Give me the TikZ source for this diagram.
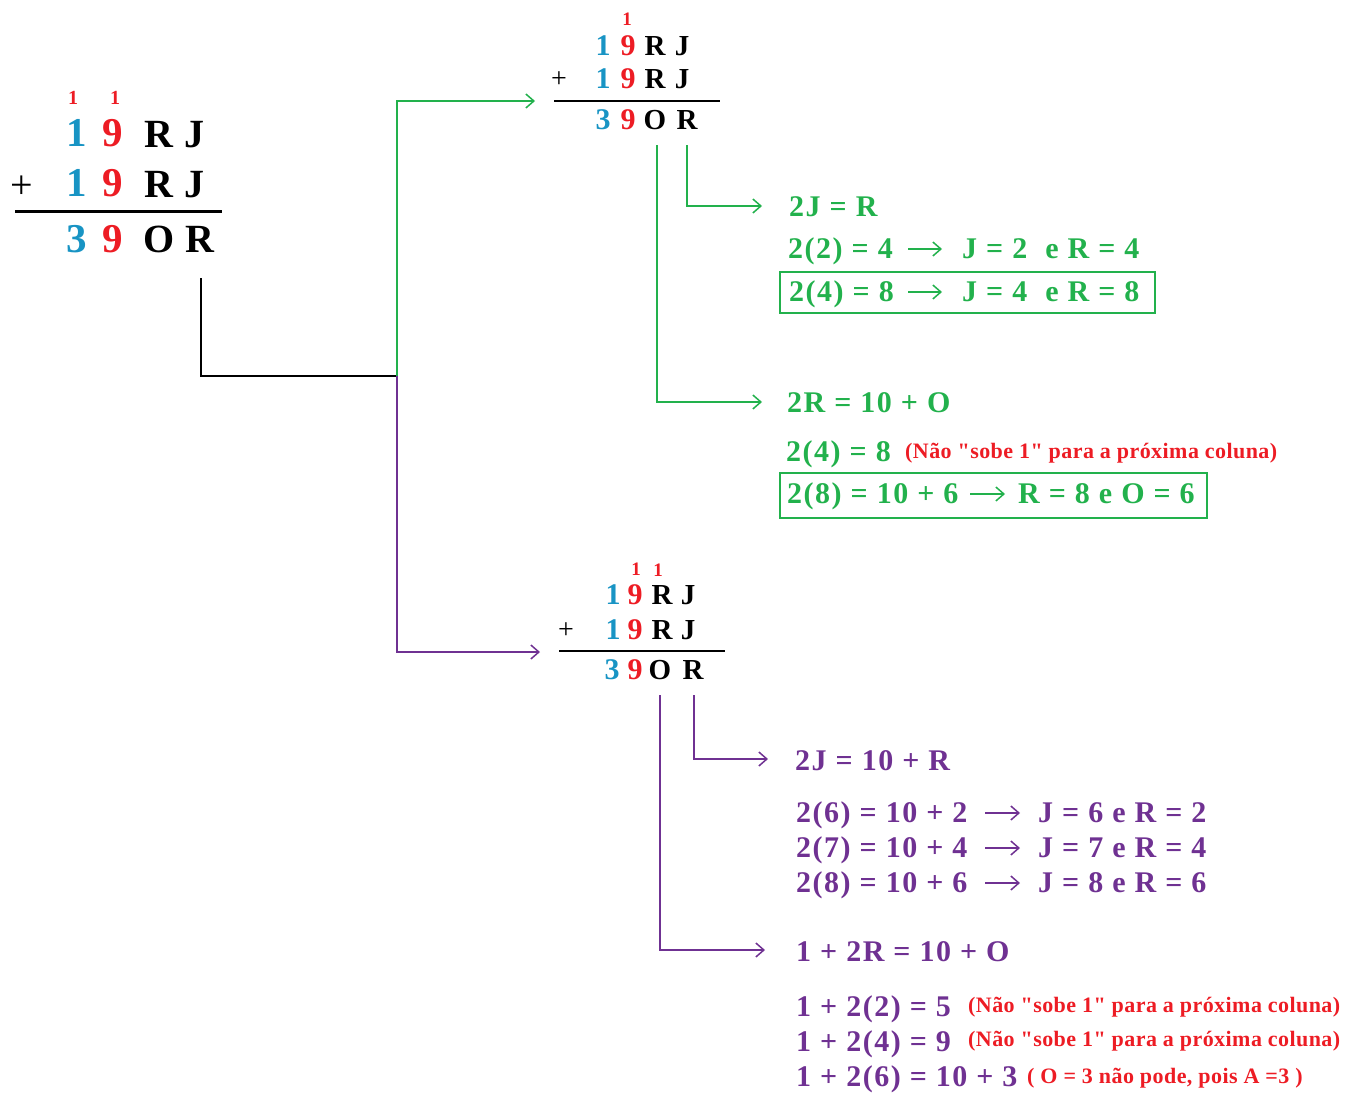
\documentclass[tikz,border=0pt]{standalone}
\usepackage{fontspec}
\setmainfont{Liberation Serif}[Ligatures=TeXOff]
\usetikzlibrary{arrows.meta,calc}
\definecolor{grn}{RGB}{34,177,76}
\definecolor{pur}{RGB}{111,49,146}
\definecolor{rd}{RGB}{237,28,36}
\definecolor{blu}{RGB}{24,148,196}
\tikzset{
  gl/.style={inner sep=0pt, anchor=base},
  bigd/.style={gl, font=\bfseries\fontsize{41}{41}\selectfont},
  bigl/.style={gl, font=\bfseries\fontsize{40}{40}\selectfont},
  bigc/.style={gl, font=\bfseries\fontsize{20}{20}\selectfont, text=rd},
  midd/.style={gl, font=\bfseries\fontsize{30}{30}\selectfont},
  midl/.style={gl, font=\bfseries\fontsize{29}{29}\selectfont},
  midc/.style={gl, font=\bfseries\fontsize{19}{19}\selectfont, text=rd},
  plus/.style={inner sep=0pt, anchor=center},
  eq/.style={inner sep=0pt, anchor=base west, font=\bfseries\fontsize{30}{30}\selectfont\addfontfeature{LetterSpace=5}},
  note/.style={inner sep=0pt, anchor=base west, font=\bfseries\fontsize{22}{22}\selectfont\addfontfeature{LetterSpace=2}, text=rd},
  conn/.style={line width=2pt, -{Straight Barb[length=8pt,width=14pt,line width=1.5pt]}},
  tarr/.style={line width=1.5pt, -{Straight Barb[length=8pt,width=14pt,line width=1.5pt]}},
  boxn/.style={draw, line width=1.5pt, inner sep=0pt},
}
\begin{document}
\begin{tikzpicture}[x=1pt,y=-1pt]
\useasboundingbox (0,0) rectangle (1365,1095);

% ---------- left block ----------
\node[bigc] (lc1) at (73,104) {1};
\node[bigc] (lc2) at (115,104) {1};
\node[bigd,text=blu] (l11) at (77,146) {1};
\node[bigd,text=rd]  (l12) at (113,146) {9};
\node[bigl] (l13) at (159,147) {R};
\node[bigl] (l14) at (194,147) {J};
\node[plus,font=\fontsize{40}{40}\selectfont] (lp) at (22,187) {+};
\node[bigd,text=blu] (l21) at (77,196) {1};
\node[bigd,text=rd]  (l22) at (113,196) {9};
\node[bigl] (l23) at (159,197) {R};
\node[bigl] (l24) at (194,197) {J};
\draw[line width=3pt] (15,211) -- (222,211);
\node[bigd,text=blu] (l31) at (77,252) {3};
\node[bigd,text=rd]  (l32) at (113,252) {9};
\node[bigl] (l33) at (159,252) {O};
\node[bigl] (l34) at (200,252) {R};

% ---------- top middle block ----------
\node[midc] (tc1) at (627,25) {1};
\node[midd,text=blu] (t11) at (603,55) {1};
\node[midd,text=rd]  (t12) at (628,55) {9};
\node[midl] (t13) at (655,55) {R};
\node[midl] (t14) at (682,55) {J};
\node[plus,font=\fontsize{28}{28}\selectfont] (tp) at (559,80) {+};
\node[midd,text=blu] (t21) at (603,88) {1};
\node[midd,text=rd]  (t22) at (628,88) {9};
\node[midl] (t23) at (655,88) {R};
\node[midl] (t24) at (682,88) {J};
\draw[line width=1.5pt] (554,101) -- (720,101);
\node[midd,text=blu] (t31) at (603,129) {3};
\node[midd,text=rd]  (t32) at (628,129) {9};
\node[midl] (t33) at (655,129) {O};
\node[midl] (t34) at (687,129) {R};

% ---------- bottom middle block ----------
\node[midc] (bc1) at (636,575) {1};
\node[midc] (bc2) at (658,576) {1};
\node[midd,text=blu] (b11) at (613,604) {1};
\node[midd,text=rd]  (b12) at (635,604) {9};
\node[midl] (b13) at (662,604) {R};
\node[midl] (b14) at (688,604) {J};
\node[plus,font=\fontsize{28}{28}\selectfont] (bp) at (566,631) {+};
\node[midd,text=blu] (b21) at (613,639) {1};
\node[midd,text=rd]  (b22) at (635,639) {9};
\node[midl] (b23) at (662,639) {R};
\node[midl] (b24) at (688,639) {J};
\draw[line width=1.5pt] (559,651) -- (725,651);
\node[midd,text=blu] (b31) at (612,679) {3};
\node[midd,text=rd]  (b32) at (635,679) {9};
\node[midl] (b33) at (660,679) {O};
\node[midl] (b34) at (693,679) {R};

% ---------- connector coordinates ----------
\coordinate (lstart) at (201,278);
\coordinate (junc) at (397,376);
\coordinate (topend) at (535,101);
\coordinate (botend) at (540,652);
\draw[line width=2pt] (lstart) |- (junc);
\draw[conn,grn] (junc) |- (topend);
\draw[conn,pur] (junc) |- (botend);

% ---------- green equations ----------
\begin{scope}[every node/.append style={text=grn}]
\node[eq] (g1) at (789,216) {2J = R};
\node[eq] (g2a) at (788,258) {2(2) = 4};
\node[eq] (g2b) at (962,258) {J = 2 \ e R = 4};
\node[boxn,draw=grn,minimum width=375pt,minimum height=41pt] (gbox1) at (967.5,292.5) {};
\node[eq] (g3a) at (789,301) {2(4) = 8};
\node[eq] (g3b) at (962,301) {J = 4 \ e R = 8};
\node[eq] (g4) at (787,412) {2R = 10 + O};
\node[eq] (g5) at (786,461) {2(4) = 8};
\node[boxn,draw=grn,minimum width=427pt,minimum height=45pt] (gbox2) at (993.5,495.5) {};
\node[eq] (g6a) at (787,503) {2(8) = 10 + 6};
\node[eq] (g6b) at (1018,503) {R = 8 e O = 6};
\end{scope}
\node[note] (gn) at (905,458) {(Não "sobe 1" para a próxima coluna)};

\draw[conn,grn] (687,145) |- ($(g1.base west)+(-27,-10)$);
\draw[conn,grn] (657,145) |- ($(g4.base west)+(-25,-10)$);
\draw[tarr,grn] (908,249) -- ($(g2b.base west)+(-20,-9)$);
\draw[tarr,grn] (908,292) -- ($(g3b.base west)+(-20,-9)$);
\draw[tarr,grn] (970,494) -- ($(g6b.base west)+(-13,-9)$);

% ---------- purple equations ----------
\begin{scope}[every node/.append style={text=pur}]
\node[eq] (p1) at (795,770) {2J = 10 + R};
\node[eq] (p2a) at (796,822) {2(6) = 10 + 2};
\node[eq] (p2b) at (1038,822) {J = 6 e R = 2};
\node[eq] (p3a) at (796,857) {2(7) = 10 + 4};
\node[eq] (p3b) at (1038,857) {J = 7 e R = 4};
\node[eq] (p4a) at (796,892) {2(8) = 10 + 6};
\node[eq] (p4b) at (1038,892) {J = 8 e R = 6};
\node[eq] (p5) at (796,961) {1 + 2R = 10 + O};
\node[eq] (p6) at (796,1016) {1 + 2(2) = 5};
\node[eq] (p7) at (796,1051) {1 + 2(4) = 9};
\node[eq] (p8) at (796,1086) {1 + 2(6) = 10 + 3};
\end{scope}
\node[note] (pn1) at (968,1012) {(Não "sobe 1" para a próxima coluna)};
\node[note] (pn2) at (968,1046) {(Não "sobe 1" para a próxima coluna)};
\node[note] (pn3) at (1027,1083) {( O = 3 não pode, pois A =3 )};

\draw[conn,pur] (694,695) |- ($(p1.base west)+(-27,-11)$);
\draw[conn,pur] (660,695) |- ($(p5.base west)+(-31,-11)$);
\draw[tarr,pur] (985,813) -- ($(p2b.base west)+(-18,-9)$);
\draw[tarr,pur] (985,848) -- ($(p3b.base west)+(-18,-9)$);
\draw[tarr,pur] (985,883) -- ($(p4b.base west)+(-18,-9)$);
\end{tikzpicture}
\end{document}
